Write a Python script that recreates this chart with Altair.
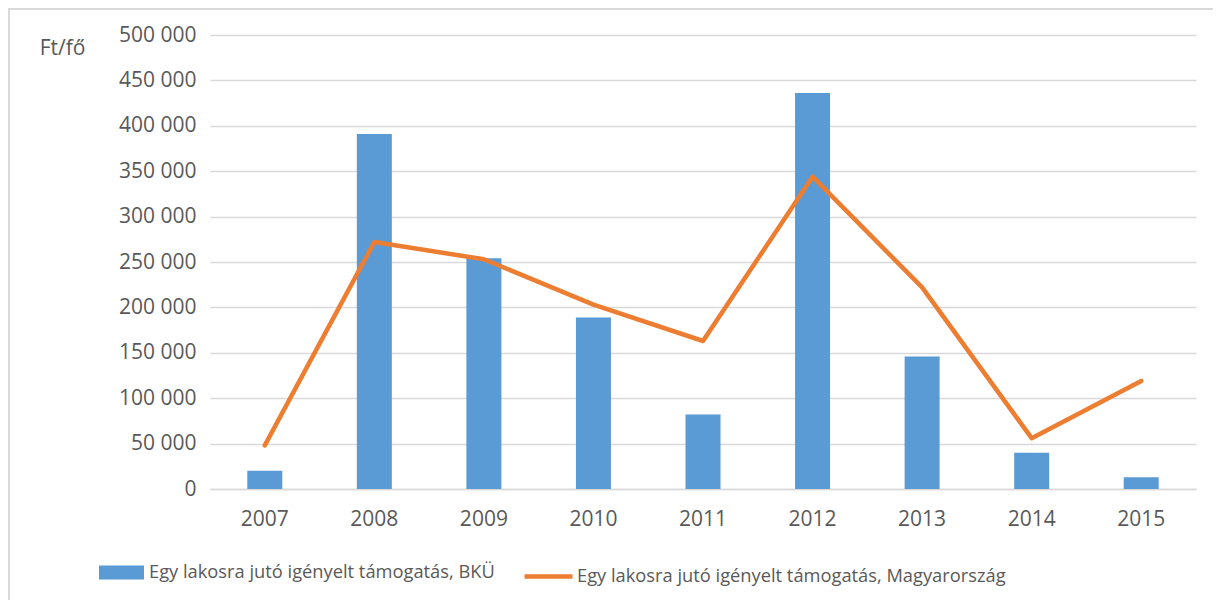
import altair as alt
import pandas as pd

years = ["2007", "2008", "2009", "2010", "2011", "2012", "2013", "2014", "2015"]
bku = [20000, 391000, 254000, 189000, 82000, 436000, 146000, 40000, 13000]
hungary = [48000, 272000, 253000, 203000, 163000, 344000, 222000, 56000, 119000]

bar_name = "Egy lakosra jutó igényelt támogatás, BKÜ"
line_name = "Egy lakosra jutó igényelt támogatás, Magyarország"

df = pd.DataFrame({"year": years, "bku": bku, "hu": hungary,
                   "s1": [bar_name] * len(years), "s2": [line_name] * len(years)})

FONT = "Open Sans"
TXT = "#595959"
GRID = "#D9D9D9"

x_enc = alt.X("year:N", title=None,
              scale=alt.Scale(paddingInner=0, paddingOuter=0),
              axis=alt.Axis(labelAngle=0, ticks=False, domain=True, domainColor=GRID,
                            domainWidth=1.5, labelPadding=19, labelFontSize=21,
                            labelColor=TXT, labelFont=FONT, grid=False))

y_axis = alt.Axis(values=list(range(0, 500001, 50000)), ticks=False, domain=False,
                  gridColor=GRID, gridWidth=1.5, labelPadding=14, labelFontSize=21,
                  labelColor=TXT, labelFont=FONT,
                  labelExpr="replace(format(datum.value, ','), regexp(',', 'g'), ' ')",
                  title="Ft/fő", titleAngle=0, titleX=-148, titleY=13,
                  titleAlign="center", titleBaseline="middle", titleFontSize=21,
                  titleFontWeight="normal", titleColor=TXT, titleFont=FONT)

bars = alt.Chart(df).mark_bar(size=35).encode(
    x=x_enc,
    y=alt.Y("bku:Q", scale=alt.Scale(domain=[0, 500000], nice=False), axis=y_axis),
    fill=alt.Fill("s1:N", scale=alt.Scale(range=["#5B9BD5"]),
                  legend=alt.Legend(title=None, orient="none", legendX=-111, legendY=515,
                                    symbolType="M-1,-0.311H1V0.311H-1Z", symbolSize=2025,
                                    symbolStrokeWidth=0, labelFontSize=18.3, labelColor=TXT,
                                    labelFont=FONT, labelOffset=5, padding=0,
                                    labelLimit=1000)),
)

line = alt.Chart(df).mark_line(strokeWidth=4.5, strokeCap="round", strokeJoin="round").encode(
    x=alt.X("year:N"),
    y=alt.Y("hu:Q"),
    stroke=alt.Stroke("s2:N", scale=alt.Scale(range=["#ED7D31"]),
                      legend=alt.Legend(title=None, orient="none", legendX=312, legendY=515,
                                        symbolType="stroke", symbolSize=2304,
                                        symbolStrokeWidth=4.5, labelFontSize=18.3,
                                        labelColor=TXT, labelFont=FONT, labelOffset=2,
                                        padding=0, labelLimit=1000)),
)

frame_df = pd.DataFrame({"k": [0]})
frame = alt.Chart(frame_df).mark_rect(fill="transparent", stroke=GRID, strokeWidth=2).encode(
    x=alt.value(-201), x2=alt.value(1100), y=alt.value(-26), y2=alt.value(700)
)

chart = alt.layer(frame, bars, line).resolve_scale(fill="independent", stroke="independent").properties(
    width=986, height=454,
    autosize=alt.AutoSizeParams(type="none"),
    padding={"left": 202, "top": 27, "right": 17, "bottom": 111},
    background="white",
).configure_view(stroke=None)

chart.save("out.html", embed_options={"renderer": "svg", "actions": False})
